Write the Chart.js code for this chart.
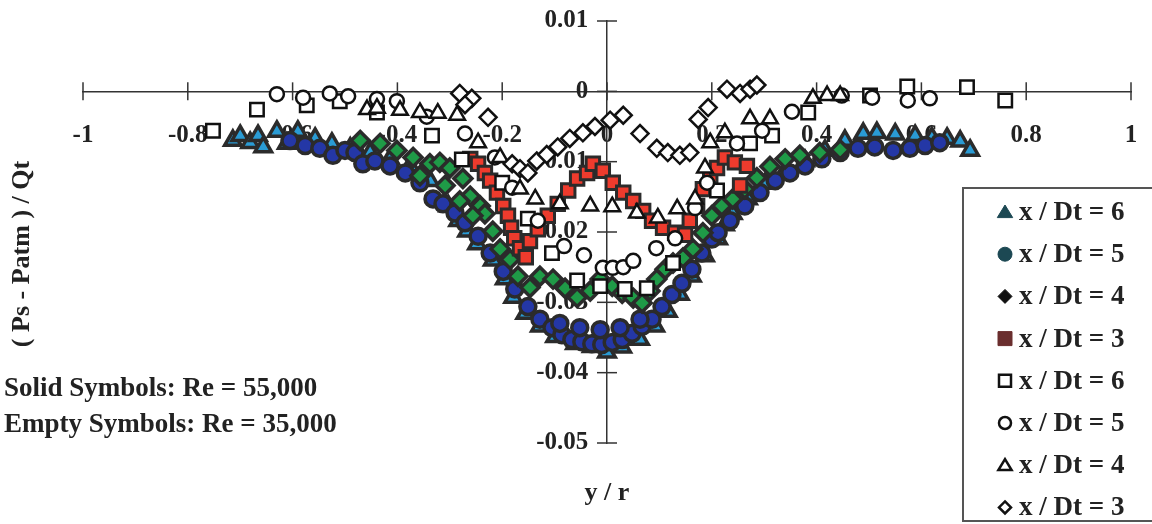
<!DOCTYPE html>
<html>
<head>
<meta charset="utf-8">
<title>Static pressure profiles</title>
<script src="https://cdn.jsdelivr.net/npm/chart.js"></script>
<style>
  html, body { margin: 0; padding: 0; background: #fff; }
  #wrap { position: relative; width: 1152px; height: 524px; }
</style>
</head>
<body>
<div id="wrap"><canvas id="pressureChart" width="1152" height="524"></canvas></div>
<script>
// y / r positions and (Ps - Patm) / Qt values

// solid symbols, Re = 55,000
const solidTri6X = [-0.714, -0.700, -0.681, -0.666, -0.656, -0.630, -0.611, -0.590, -0.557, -0.525, -0.490, -0.452, -0.414, -0.376, -0.338, -0.303, -0.284, -0.267, -0.248, -0.218, -0.195, -0.179, -0.156, -0.128, -0.099, -0.061, -0.029, 0.000, 0.029, 0.063, 0.092, 0.116, 0.139, 0.162, 0.187, 0.212, 0.225, 0.240, 0.269, 0.302, 0.340, 0.378, 0.416, 0.454, 0.489, 0.515, 0.550, 0.588, 0.620, 0.649, 0.674, 0.693];
const solidTri6Y = [-0.0070, -0.0063, -0.0073, -0.0063, -0.0079, -0.0057, -0.0074, -0.0057, -0.0067, -0.0074, -0.0081, -0.0087, -0.0096, -0.0106, -0.0127, -0.0163, -0.0184, -0.0199, -0.0217, -0.0240, -0.0267, -0.0293, -0.0316, -0.0334, -0.0349, -0.0359, -0.0363, -0.0371, -0.0364, -0.0353, -0.0334, -0.0313, -0.0289, -0.0263, -0.0234, -0.0210, -0.0190, -0.0174, -0.0153, -0.0131, -0.0113, -0.0099, -0.0084, -0.0070, -0.0060, -0.0059, -0.0061, -0.0063, -0.0066, -0.0067, -0.0071, -0.0084];

const solidCi5X = [-0.605, -0.576, -0.548, -0.523, -0.500, -0.481, -0.466, -0.443, -0.414, -0.385, -0.357, -0.332, -0.313, -0.290, -0.271, -0.246, -0.223, -0.198, -0.176, -0.151, -0.128, -0.105, -0.086, -0.067, -0.048, -0.029, -0.010, 0.010, 0.029, 0.048, 0.067, 0.086, 0.105, 0.124, 0.143, 0.162, 0.181, 0.200, 0.212, 0.235, 0.263, 0.292, 0.321, 0.349, 0.378, 0.410, 0.445, 0.479, 0.511, 0.546, 0.578, 0.607, 0.635, -0.090, -0.052, -0.013, 0.025, 0.063];
const solidCi5Y = [-0.0070, -0.0077, -0.0081, -0.0091, -0.0084, -0.0087, -0.0103, -0.0099, -0.0106, -0.0116, -0.0130, -0.0153, -0.0160, -0.0173, -0.0187, -0.0206, -0.0230, -0.0256, -0.0281, -0.0306, -0.0324, -0.0336, -0.0346, -0.0353, -0.0356, -0.0359, -0.0360, -0.0357, -0.0353, -0.0344, -0.0334, -0.0324, -0.0306, -0.0289, -0.0273, -0.0253, -0.0230, -0.0210, -0.0201, -0.0184, -0.0163, -0.0144, -0.0127, -0.0116, -0.0106, -0.0096, -0.0087, -0.0081, -0.0079, -0.0084, -0.0081, -0.0077, -0.0073, -0.0330, -0.0336, -0.0339, -0.0336, -0.0324];

const solidDi4X = [-0.471, -0.433, -0.401, -0.370, -0.338, -0.319, -0.300, -0.275, -0.261, -0.242, -0.233, -0.218, -0.204, -0.185, -0.170, -0.147, -0.128, -0.103, -0.080, -0.057, -0.032, -0.013, 0.010, 0.029, 0.050, 0.067, 0.082, 0.095, 0.111, 0.126, 0.145, 0.164, 0.183, 0.200, 0.219, 0.240, 0.263, 0.286, 0.311, 0.340, 0.368, 0.406, 0.445, -0.357, -0.309, -0.281, -0.256];
const solidDi4Y = [-0.0070, -0.0074, -0.0084, -0.0094, -0.0103, -0.0101, -0.0109, -0.0124, -0.0149, -0.0163, -0.0174, -0.0199, -0.0224, -0.0239, -0.0263, -0.0279, -0.0263, -0.0267, -0.0280, -0.0293, -0.0284, -0.0267, -0.0277, -0.0287, -0.0294, -0.0301, -0.0284, -0.0267, -0.0253, -0.0244, -0.0237, -0.0224, -0.0201, -0.0177, -0.0163, -0.0153, -0.0139, -0.0123, -0.0107, -0.0096, -0.0091, -0.0087, -0.0083, -0.0120, -0.0134, -0.0156, -0.0177];

const solidSq3X = [-0.261, -0.246, -0.233, -0.223, -0.210, -0.198, -0.189, -0.183, -0.177, -0.166, -0.155, -0.147, -0.132, -0.113, -0.094, -0.074, -0.057, -0.038, -0.027, -0.008, 0.011, 0.031, 0.050, 0.069, 0.086, 0.107, 0.130, 0.149, 0.158, 0.172, 0.183, 0.197, 0.210, 0.225, 0.244, 0.267, 0.254];
const solidSq3Y = [-0.0096, -0.0103, -0.0116, -0.0127, -0.0144, -0.0163, -0.0177, -0.0194, -0.0209, -0.0223, -0.0236, -0.0213, -0.0196, -0.0177, -0.0160, -0.0141, -0.0124, -0.0116, -0.0103, -0.0113, -0.0130, -0.0144, -0.0156, -0.0170, -0.0184, -0.0194, -0.0201, -0.0204, -0.0184, -0.0163, -0.0139, -0.0120, -0.0109, -0.0094, -0.0101, -0.0106, -0.0134];

// empty symbols, Re = 35,000
const emptySq6X = [-0.752, -0.668, -0.573, -0.510, -0.439, -0.334, -0.277, -0.200, -0.151, -0.105, -0.057, -0.013, 0.034, 0.076, 0.126, 0.210, 0.273, 0.315, 0.384, 0.502, 0.573, 0.687, 0.760];
const emptySq6Y = [-0.0056, -0.0026, -0.0020, -0.0014, -0.0030, -0.0063, -0.0097, -0.0130, -0.0181, -0.0230, -0.0269, -0.0277, -0.0281, -0.0280, -0.0244, -0.0141, -0.0074, -0.0063, -0.0030, -0.0006, 0.0007, 0.0006, -0.0013];

const emptyCi5X = [-0.630, -0.580, -0.529, -0.494, -0.439, -0.401, -0.344, -0.271, -0.214, -0.181, -0.132, -0.082, -0.044, -0.008, 0.011, 0.031, 0.050, 0.094, 0.130, 0.168, 0.191, 0.248, 0.296, 0.353, 0.448, 0.506, 0.574, 0.616];
const emptyCi5Y = [-0.0004, -0.0009, -0.0003, -0.0007, -0.0011, -0.0014, -0.0036, -0.0060, -0.0094, -0.0137, -0.0184, -0.0220, -0.0233, -0.0251, -0.0251, -0.0250, -0.0241, -0.0223, -0.0209, -0.0166, -0.0130, -0.0074, -0.0056, -0.0029, -0.0006, -0.0009, -0.0013, -0.0010];

const emptyTr4X = [-0.458, -0.439, -0.395, -0.357, -0.323, -0.286, -0.246, -0.204, -0.166, -0.137, -0.090, -0.032, 0.010, 0.057, 0.097, 0.134, 0.168, 0.187, 0.197, 0.225, 0.273, 0.311, 0.393, 0.420, 0.445];
const emptyTr4Y = [-0.0026, -0.0024, -0.0027, -0.0030, -0.0031, -0.0034, -0.0073, -0.0094, -0.0139, -0.0153, -0.0160, -0.0163, -0.0164, -0.0173, -0.0180, -0.0167, -0.0153, -0.0109, -0.0073, -0.0059, -0.0039, -0.0039, -0.0010, -0.0006, -0.0006];

const emptyDi3X = [-0.281, -0.258, -0.271, -0.227, -0.181, -0.166, -0.151, -0.134, -0.115, -0.094, -0.071, -0.046, -0.023, 0.006, 0.031, 0.063, 0.095, 0.116, 0.139, 0.158, 0.174, 0.193, 0.229, 0.254, 0.273, 0.286];
const emptyDi3Y = [-0.0003, -0.0010, -0.0019, -0.0037, -0.0103, -0.0110, -0.0116, -0.0099, -0.0090, -0.0079, -0.0067, -0.0059, -0.0050, -0.0041, -0.0034, -0.0060, -0.0081, -0.0087, -0.0091, -0.0087, -0.0040, -0.0023, 0.0003, -0.0003, 0.0003, 0.0009];

const seriesLabels = ['x / Dt = 6', 'x / Dt = 5', 'x / Dt = 4', 'x / Dt = 3', 'x / Dt = 6', 'x / Dt = 5', 'x / Dt = 4', 'x / Dt = 3'];
const xTickLabels = ['-1', '-0.8', '-0.6', '-0.4', '-0.2', '0', '0.2', '0.4', '0.6', '0.8', '1'];
const yTickLabels = ['-0.05', '-0.04', '-0.03', '-0.02', '-0.01', '0', '0.01'];

const FONT = '"Liberation Serif", "Times New Roman", serif';
const EDGE = '#2b2b2b';

function toPoints(xs, ys) {
    return xs.map((x, i) => ({ x: x, y: ys[i] }));
}

// marker look in the plot and in the legend box
const markerStyles = [
    { style: 'triangle', radius: 9.5, fill: '#2a9bd4', line: EDGE, width: 3.5, legendFill: '#1c4853' },
    { style: 'circle',   radius: 8,   fill: '#2437a6', line: EDGE, width: 3.5, legendFill: '#1c4853' },
    { style: 'rectRot',  radius: 9,   fill: '#1f9a47', line: EDGE, width: 3.5, legendFill: '#111111' },
    { style: 'rect',     radius: 9.5, fill: '#ee3b2d', line: EDGE, width: 3,   legendFill: '#6a2e2e' },
    { style: 'rect',     radius: 9.5, fill: '#ffffff', line: '#111', width: 2.5, legendFill: '#ffffff' },
    { style: 'circle',   radius: 7,   fill: '#ffffff', line: '#111', width: 2.5, legendFill: '#ffffff' },
    { style: 'triangle', radius: 9,   fill: '#ffffff', line: '#111', width: 2.5, legendFill: '#ffffff' },
    { style: 'rectRot',  radius: 8.5, fill: '#ffffff', line: '#111', width: 2.5, legendFill: '#ffffff' }
];

const seriesData = [
    toPoints(solidTri6X, solidTri6Y),
    toPoints(solidCi5X, solidCi5Y),
    toPoints(solidDi4X, solidDi4Y),
    toPoints(solidSq3X, solidSq3Y),
    toPoints(emptySq6X, emptySq6Y),
    toPoints(emptyCi5X, emptyCi5Y),
    toPoints(emptyTr4X, emptyTr4Y),
    toPoints(emptyDi3X, emptyDi3Y)
];

// later series sit on top, like the spreadsheet drew them
const datasets = seriesData.map((pts, i) => ({
    label: seriesLabels[i],
    data: pts,
    order: seriesData.length - i,
    pointStyle: markerStyles[i].style,
    pointRadius: markerStyles[i].radius,
    backgroundColor: markerStyles[i].fill,
    borderColor: markerStyles[i].line,
    pointBorderWidth: markerStyles[i].width,
    showLine: false
}));

function drawMarker(ctx, style, x, y, r) {
    ctx.beginPath();
    if (style === 'circle') {
        ctx.arc(x, y, r, 0, Math.PI * 2);
    } else if (style === 'rect') {
        ctx.rect(x - r, y - r, 2 * r, 2 * r);
    } else if (style === 'rectRot') {
        ctx.moveTo(x, y - r);
        ctx.lineTo(x + r, y);
        ctx.lineTo(x, y + r);
        ctx.lineTo(x - r, y);
        ctx.closePath();
    } else {
        ctx.moveTo(x, y - r);
        ctx.lineTo(x + r * 1.1, y + r * 0.8);
        ctx.lineTo(x - r * 1.1, y + r * 0.8);
        ctx.closePath();
    }
    ctx.fill();
    ctx.stroke();
}

// tick marks that cross the axis lines
const crossTicks = {
    id: 'crossTicks',
    beforeDatasetsDraw(chart) {
        const { ctx, scales: { x, y } } = chart;
        const x0 = x.getPixelForValue(0);
        const y0 = y.getPixelForValue(0);
        ctx.save();
        ctx.strokeStyle = '#333';
        ctx.lineWidth = 1.5;
        x.ticks.forEach(t => {
            const px = x.getPixelForValue(t.value);
            ctx.beginPath();
            ctx.moveTo(px, y0 - 9);
            ctx.lineTo(px, y0 + 9);
            ctx.stroke();
        });
        y.ticks.forEach(t => {
            const py = y.getPixelForValue(t.value);
            ctx.beginPath();
            ctx.moveTo(x0 - 10, py);
            ctx.lineTo(x0 + 10, py);
            ctx.stroke();
        });
        ctx.restore();
    }
};

// titles, Re notes and the boxed legend
const figureText = {
    id: 'figureText',
    afterDraw(chart) {
        const ctx = chart.ctx;
        const x0 = chart.scales.x.getPixelForValue(0);
        ctx.save();
        ctx.fillStyle = '#222';
        ctx.textBaseline = 'middle';

        ctx.font = 'bold 26px ' + FONT;
        ctx.textAlign = 'center';
        ctx.fillText('y / r', x0, 493);

        ctx.save();
        ctx.translate(22, 254);
        ctx.rotate(-Math.PI / 2);
        ctx.fillText('( Ps - Patm ) / Qt', 0, 0);
        ctx.restore();

        ctx.textAlign = 'left';
        ctx.font = 'bold 27px ' + FONT;
        ctx.fillText('Solid Symbols: Re = 55,000', 4, 389);
        ctx.fillText('Empty Symbols: Re = 35,000', 4, 425);

        // legend box
        ctx.fillStyle = '#fff';
        ctx.fillRect(963, 188, 200, 334);
        ctx.strokeStyle = '#555';
        ctx.lineWidth = 2;
        ctx.strokeRect(963, 188, 200, 333);

        ctx.font = 'bold 27px ' + FONT;
        chart.data.datasets.forEach((ds, i) => {
            const rowY = 212 + i * 42.2;
            const m = markerStyles[i];
            ctx.fillStyle = m.legendFill;
            ctx.strokeStyle = i < 4 ? m.legendFill : '#111';
            ctx.lineWidth = i < 4 ? 1 : 2.5;
            drawMarker(ctx, m.style, 1005, rowY, i < 4 ? 7 : 6);
            ctx.fillStyle = '#222';
            ctx.fillText(ds.label, 1019, rowY + 1);
        });
        ctx.restore();
    }
};

const ctx = document.getElementById('pressureChart').getContext('2d');

const pressureChart = new Chart(ctx, {
    type: 'scatter',
    data: { datasets: datasets },
    options: {
        responsive: false,
        animation: false,
        events: [],
        layout: { padding: { left: 83, right: 21, top: 21, bottom: 81 } },
        plugins: {
            legend: { display: false },
            tooltip: { enabled: false }
        },
        scales: {
            x: {
                type: 'linear',
                position: { y: 0 },
                min: -1,
                max: 1,
                // tick marks are drawn by crossTicks; tickLength only spaces the labels
                grid: { display: false, tickLength: 26 },
                border: { color: '#333', width: 1.5 },
                ticks: {
                    stepSize: 0.2,
                    autoSkip: false,
                    maxRotation: 0,
                    padding: 3,
                    color: '#222',
                    font: { family: FONT, size: 25, weight: 'bold' },
                    callback: (v, i) => xTickLabels[i]
                }
            },
            y: {
                type: 'linear',
                position: { x: 0 },
                min: -0.05,
                max: 0.01,
                grid: { display: false },
                border: { color: '#333', width: 1.5 },
                ticks: {
                    stepSize: 0.01,
                    autoSkip: false,
                    padding: 3,
                    color: '#222',
                    font: { family: FONT, size: 25, weight: 'bold' },
                    // trailing spaces keep the labels clear of the centred axis
                    callback: (v, i) => yTickLabels[i] + '   '
                }
            }
        }
    },
    plugins: [crossTicks, figureText]
});
</script>
</body>
</html>
